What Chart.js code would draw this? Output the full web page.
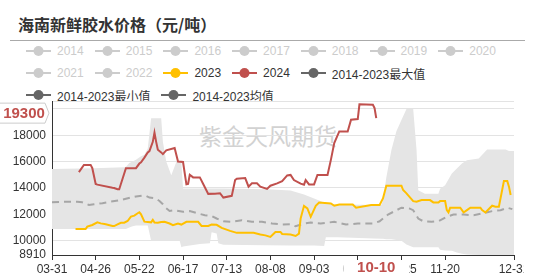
<!DOCTYPE html>
<html>
<head>
<meta charset="utf-8">
<script src="https://cdn.jsdelivr.net/npm/chart.js@4"></script>
<style>
    body { margin: 0; background: #fff; }
    #wrap { position: relative; width: 535px; height: 280px; overflow: hidden; font-family: 'Liberation Sans', 'Noto Sans CJK SC', sans-serif; }
    #title { position: absolute; left: 18px; top: 14px; font: bold 16px 'Noto Sans CJK SC', sans-serif; line-height: 20px; color: #333; }
    #rule { position: absolute; left: 10px; top: 40px; width: 515px; height: 1px; background: #aaa; }
    #legend { position: absolute; left: 26px; top: 40px; width: 480px; display: flex; flex-wrap: wrap; column-gap: 11px; }
    .item { display: flex; align-items: center; height: 22px; font-size: 12px; color: #333; white-space: nowrap; }
    .item svg { margin-right: 6px; }
    .item.off { color: #ccc; }
    #watermark { position: absolute; left: 199px; top: 118px; font: 23px 'Noto Sans CJK SC', sans-serif; color: #d2d2d2; }
    #box { position: absolute; left: 0; top: 0; width: 524px; height: 280px; overflow: hidden; }
</style>
</head>
<body>
<div id="wrap">
    <div id="title">海南新鲜胶水价格（元/吨）</div>
    <div id="rule"></div>
    <div id="legend"></div>
    <div id="watermark">紫金天风期货</div>
    <div id="box"><canvas id="chart" width="535" height="280"></canvas></div>
</div>
<script>
    // legend entries (2014-2022 are switched off in the original)
    const legendNames = ['2014', '2015', '2016', '2017', '2018', '2019', '2020', '2021', '2022', '2023', '2024', '2014-2023最大值', '2014-2023最小值', '2014-2023均值'];
    const legendColors = ['#ccc', '#ccc', '#ccc', '#ccc', '#ccc', '#ccc', '#ccc', '#ccc', '#ccc', '#ffc000', '#c0504d', '#666', '#666', '#666'];
    const legendOff = [true, true, true, true, true, true, true, true, true, false, false, false, false, false];

    // x tick labels and y ticks
    const xTickLabels = ['03-31', '04-26', '05-22', '06-17', '07-13', '08-08', '09-03', '09-29', '10-25', '11-20', '12-31'];
    const yTicks = [8910, 10000, 12000, 14000, 16000, 18000, 20000, 20600];

    // 2024
    const dates2024 = ['04-16', '04-19', '04-23', '04-24', '04-26', '04-27', '05-06', '05-07', '05-09', '05-10', '05-12', '05-14', '05-20', '05-22', '05-23', '05-25', '05-27', '05-28', '05-30', '05-31', '06-01', '06-02', '06-04', '06-05', '06-07', '06-12', '06-14', '06-17', '06-19', '06-20', '06-21', '06-23', '06-27', '06-29', '07-02', '07-06', '07-09', '07-11', '07-16', '07-18', '07-19', '07-24', '07-26', '07-28', '07-31', '08-02', '08-06', '08-08', '08-12', '08-15', '08-18', '08-20', '08-22', '08-26', '08-28', '08-29', '08-31', '09-03', '09-05', '09-11', '09-13', '09-15', '09-18', '09-23', '09-25', '09-29', '09-30', '10-08', '10-09', '10-10'];
    const values2024 = [15200, 15750, 15750, 15500, 14300, 14250, 14020, 14000, 13900, 13900, 14700, 15500, 15500, 15850, 15950, 16300, 16700, 16800, 17500, 18200, 17500, 16900, 16700, 16570, 16850, 17030, 16000, 15970, 14270, 14300, 15000, 14800, 14800, 14300, 13550, 13560, 13600, 13270, 13400, 14600, 14700, 14750, 14100, 14350, 14350, 14100, 13930, 14170, 14350, 14520, 14950, 14990, 14600, 14330, 14250, 14600, 14270, 14270, 14980, 14980, 16130, 17400, 18290, 18290, 19180, 19230, 20350, 20320, 20070, 19300];

    // 2023
    const dates2023 = ['04-14', '04-20', '04-21', '04-24', '04-27', '04-29', '05-02', '05-06', '05-07', '05-09', '05-11', '05-13', '05-15', '05-17', '05-19', '05-21', '05-22', '05-23', '05-25', '05-29', '05-30', '05-31', '06-02', '06-04', '06-06', '06-09', '06-11', '06-14', '06-16', '06-19', '06-26', '06-28', '07-02', '07-04', '07-07', '07-10', '07-15', '07-19', '07-29', '08-02', '08-05', '08-08', '08-11', '08-14', '08-15', '08-20', '08-23', '08-25', '08-26', '08-28', '08-30', '09-01', '09-04', '09-06', '09-13', '09-15', '09-18', '09-26', '09-28', '10-07', '10-12', '10-14', '10-16', '10-25', '10-26', '10-28', '11-01', '11-03', '11-06', '11-11', '11-13', '11-16', '11-17', '11-20', '11-21', '11-22', '11-23', '11-29', '12-01', '12-03', '12-05', '12-11', '12-12', '12-14', '12-18', '12-20', '12-22', '12-25', '12-27', '12-28', '12-29'];
    const values2023 = [10880, 10880, 11060, 11190, 11390, 11310, 11240, 11110, 11110, 11240, 11360, 11360, 11490, 11820, 11900, 12080, 12150, 12000, 11440, 11390, 11580, 11380, 11360, 11410, 11430, 11300, 11170, 11300, 11220, 11430, 11430, 11120, 11120, 11220, 11200, 10970, 10740, 10590, 10590, 10460, 10400, 10280, 10660, 10660, 10510, 10460, 10350, 10530, 11680, 12640, 12440, 11810, 12650, 12900, 12820, 12650, 12750, 12750, 12500, 12700, 12700, 13200, 14170, 14170, 13840, 13590, 13000, 12950, 13080, 13080, 12900, 12900, 13000, 13000, 12320, 12140, 12500, 12500, 12140, 12320, 12500, 12500, 12320, 12140, 12650, 12580, 12580, 14520, 14520, 14100, 13460];

    // 2014-2023 mean
    const datesMean = ['03-31', '04-11', '04-15', '04-18', '04-22', '04-25', '04-30', '05-05', '05-11', '05-17', '05-20', '05-24', '05-26', '05-28', '05-31', '06-03', '06-05', '06-07', '06-09', '06-12', '06-17', '06-21', '06-26', '06-30', '07-04', '07-07', '07-11', '07-16', '07-22', '07-28', '08-03', '08-09', '08-15', '08-20', '08-23', '08-28', '09-01', '09-07', '09-15', '09-22', '09-29', '10-08', '10-12', '10-17', '10-21', '10-25', '10-30', '11-01', '11-04', '11-07', '11-12', '11-16', '11-21', '11-25', '12-01', '12-07', '12-12', '12-18', '12-23', '12-27', '12-30'];
    const valuesMean = [12920, 12960, 12960, 12910, 12710, 12760, 12840, 12960, 13090, 13270, 13350, 13420, 13400, 13270, 13220, 13010, 12760, 12460, 12250, 12310, 12190, 12240, 12060, 11930, 11880, 11680, 11470, 11430, 11550, 11430, 11430, 11300, 11220, 11250, 11090, 11300, 11370, 11300, 11430, 11220, 11300, 11300, 11470, 11980, 12240, 12500, 12430, 12310, 11680, 11470, 11430, 11470, 11810, 11980, 11980, 11930, 12060, 12240, 12310, 12500, 12390];

    // 2014-2023 max / min band
    const datesBand = ['03-31', '04-25', '05-13', '05-14', '05-16', '05-18', '05-20', '05-23', '05-25', '05-27', '05-29', '06-04', '06-05', '06-07', '06-10', '06-13', '06-15', '06-16', '06-17', '06-27', '07-03', '07-04', '07-07', '07-08', '07-11', '08-06', '08-20', '08-28', '09-03', '09-09', '09-10', '09-17', '10-13', '10-14', '10-16', '10-19', '10-22', '10-25', '10-28', '11-01', '11-03', '11-04', '11-08', '11-16', '11-17', '11-20', '11-24', '11-27', '11-30', '12-03', '12-10', '12-15', '12-26', '12-28', '12-31'];
    const valuesMax = [15430, 15500, 15580, 15600, 15890, 16000, 16140, 16400, 16520, 17000, 19300, 19300, 17500, 16000, 14960, 15970, 15970, 15900, 13950, 13950, 13950, 13950, 13950, 13950, 13950, 13900, 13800, 13500, 13200, 12900, 12850, 12750, 12700, 13000, 14800, 16870, 18300, 19150, 20000, 20000, 16870, 13820, 13560, 13560, 13940, 14200, 15090, 15470, 15850, 16100, 16230, 16920, 16920, 16810, 16810];
    const valuesMin = [10890, 10890, 10890, 10890, 11000, 11100, 11150, 11150, 11150, 11150, 10000, 10000, 10000, 10000, 10000, 10000, 10000, 9500, 9550, 9750, 9800, 10640, 10550, 9800, 9690, 9650, 9640, 9640, 9640, 9600, 10250, 10250, 10150, 10150, 10100, 10100, 10050, 10000, 9700, 9500, 9500, 9490, 9490, 9490, 9300, 9250, 9240, 9100, 9000, 8950, 8910, 8910, 8910, 8910, 8910];

    // daily categories from 03-31 to 12-31
    const labels = [];
    const day = new Date(2023, 2, 31);
    while (day <= new Date(2023, 11, 31)) {
        labels.push(String(day.getMonth() + 1).padStart(2, '0') + '-' + String(day.getDate()).padStart(2, '0'));
        day.setDate(day.getDate() + 1);
    }

    const red = '#c0504d';
    const font = "'Liberation Sans', 'Noto Sans CJK SC', sans-serif";

    function points(dates, values) {
        return dates.map((d, i) => ({ x: d, y: values[i] }));
    }

    function buildLegend() {
        const el = document.getElementById('legend');
        legendNames.forEach((name, i) => {
            const c = legendColors[i];
            const item = document.createElement('div');
            item.className = 'item' + (legendOff[i] ? ' off' : '');
            item.innerHTML = '<svg width="25" height="12"><line x1="0" y1="6" x2="25" y2="6" stroke="' + c + '" stroke-width="2"/>' +
                '<circle cx="12.5" cy="6" r="5" fill="' + c + '"/></svg><span>' + name + '</span>';
            el.appendChild(item);
        });
    }

    // axis pointer labels at the last 2024 point
    const pointerLabels = {
        id: 'pointerLabels',
        afterDraw(chart) {
            const { ctx, scales: { x, y } } = chart;
            const lastDate = dates2024[dates2024.length - 1];
            const lastValue = values2024[values2024.length - 1];
            const px = x.getPixelForValue(labels.indexOf(lastDate));
            const py = y.getPixelForValue(lastValue) - 5;
            ctx.save();
            ctx.font = 'bold 15px ' + font;
            ctx.textAlign = 'center';
            ctx.textBaseline = 'middle';
            // x label
            ctx.fillStyle = '#fff';
            ctx.fillRect(px - 33, 260, 66, 20);
            ctx.fillStyle = red;
            ctx.fillText(lastDate, px, 268);
            // y label
            ctx.beginPath();
            ctx.moveTo(-1, py - 10);
            ctx.lineTo(45, py - 10);
            ctx.lineTo(49, py);
            ctx.lineTo(45, py + 10);
            ctx.lineTo(-1, py + 10);
            ctx.closePath();
            ctx.fillStyle = '#fff';
            ctx.fill();
            ctx.strokeStyle = '#ccc';
            ctx.lineWidth = 1;
            ctx.stroke();
            ctx.fillStyle = red;
            ctx.fillText(String(lastValue), 24, py + 1);
            ctx.restore();
        }
    };

    document.addEventListener('DOMContentLoaded', function() {
        buildLegend();
        const ctx = document.getElementById('chart').getContext('2d');
        new Chart(ctx, {
            type: 'line',
            data: {
                labels: labels,
                datasets: [
                    { label: '2024', data: points(dates2024, values2024), borderColor: red, borderWidth: 2, order: 0 },
                    { label: '2023', data: points(dates2023, values2023), borderColor: '#ffc000', borderWidth: 2, order: 1 },
                    { label: '2014-2023均值', data: points(datesMean, valuesMean), borderColor: '#a6a6a6', borderWidth: 2, borderDash: [7, 5], order: 2 },
                    { label: '2014-2023最大值', data: points(datesBand, valuesMax), borderWidth: 0, borderColor: 'rgba(0,0,0,0)', backgroundColor: '#e5e5e5', fill: '+1', order: 3 },
                    { label: '2014-2023最小值', data: points(datesBand, valuesMin), borderWidth: 0, borderColor: 'rgba(0,0,0,0)', fill: false, order: 4 }
                ]
            },
            options: {
                responsive: false,
                animation: false,
                events: [],
                layout: { padding: { top: 101, right: 21, left: 0, bottom: 0 } },
                elements: { point: { radius: 0 }, line: { tension: 0 } },
                plugins: { legend: { display: false }, tooltip: { enabled: false } },
                scales: {
                    x: {
                        type: 'category',
                        afterFit: s => { s.height = 25; },
                        afterBuildTicks: s => { s.ticks = xTickLabels.map(l => ({ value: labels.indexOf(l) })); },
                        grid: { drawOnChartArea: false, tickLength: 5, color: '#333' },
                        border: { color: '#333' },
                        ticks: { autoSkip: false, maxRotation: 0, minRotation: 0, padding: 2, color: '#333', font: { family: font, size: 12 } }
                    },
                    y: {
                        min: yTicks[0],
                        max: yTicks[yTicks.length - 1],
                        afterFit: s => { s.width = 52; },
                        afterBuildTicks: s => { s.ticks = yTicks.map(v => ({ value: v })); },
                        grid: { drawTicks: false, color: '#e3e3e3' },
                        border: { color: '#333' },
                        ticks: {
                            padding: 6, color: '#333', font: { family: font, size: 12 },
                            callback: v => (v >= 20000 ? '' : String(v))
                        }
                    }
                }
            },
            plugins: [pointerLabels]
        });
    });
</script>
</body>
</html>
